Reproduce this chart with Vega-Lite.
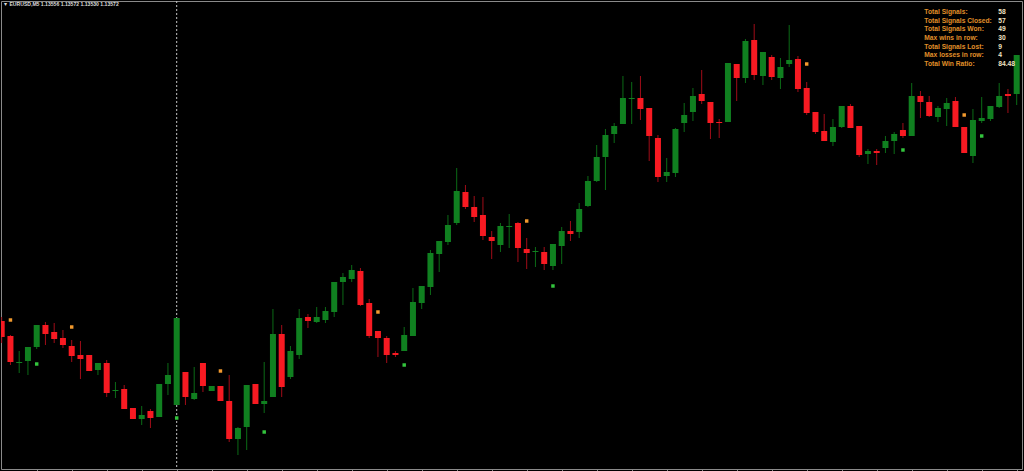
{
"$schema": "https://vega.github.io/schema/vega-lite/v6.json",
"width": 1021, "height": 468,
"autosize": {"type": "none"},
"padding": {"left": 1, "top": 1, "right": 2, "bottom": 2},
"background": "#000000",
"title": {"text": "▼ EURUSD,M5 1.13556 1.13572 1.13530 1.13572", "anchor": "start", "frame": "group", "orient": "top", "offset": -11, "baseline": "alphabetic", "dx": 2, "font": "Liberation Sans", "fontSize": 5.1, "fontWeight": "bold", "color": "#dcdcdc"},
"config": {"view": {"stroke": "#8a8a8a", "fill": "#000000"}, "axis": {"grid": false}, "scale": {"continuousPadding": 0}},
"datasets": {
"sep": [{"i": 21}],
"signals": [
{"i":2,"p":1.13680,"side":"sell"},{"i":9,"p":1.13673,"side":"sell"},{"i":26,"p":1.13629,"side":"sell"},{"i":44,"p":1.13688,"side":"sell"},{"i":61,"p":1.13779,"side":"sell"},{"i":93,"p":1.13936,"side":"sell"},{"i":111,"p":1.13885,"side":"sell"},
{"i":5,"p":1.13636,"side":"buy"},{"i":21,"p":1.13582,"side":"buy"},{"i":31,"p":1.13568,"side":"buy"},{"i":47,"p":1.13635,"side":"buy"},{"i":64,"p":1.13714,"side":"buy"},{"i":104,"p":1.13850,"side":"buy"},{"i":113,"p":1.13864,"side":"buy"}
],
"stats": [
{"row":1,"col":"label","text":"Total Signals:"},{"row":1,"col":"value","text":"58"},
{"row":2,"col":"label","text":"Total Signals Closed:"},{"row":2,"col":"value","text":"57"},
{"row":3,"col":"label","text":"Total Signals Won:"},{"row":3,"col":"value","text":"49"},
{"row":4,"col":"label","text":"Max wins in row:"},{"row":4,"col":"value","text":"30"},
{"row":5,"col":"label","text":"Total Signals Lost:"},{"row":5,"col":"value","text":"9"},
{"row":6,"col":"label","text":"Max losses in row:"},{"row":6,"col":"value","text":"4"},
{"row":7,"col":"label","text":"Total Win Ratio:"},{"row":7,"col":"value","text":"84.48"}
],
"candles": [
{"i":1,"o":1.13679,"h":1.13683,"l":1.13657,"c":1.13663},
{"i":2,"o":1.13664,"h":1.13665,"l":1.13635,"c":1.13638},
{"i":3,"o":1.13637,"h":1.13649,"l":1.13627,"c":1.13638},
{"i":4,"o":1.13639,"h":1.13653,"l":1.13625,"c":1.13653},
{"i":5,"o":1.13653,"h":1.13675,"l":1.13651,"c":1.13675},
{"i":6,"o":1.13675,"h":1.13678,"l":1.13655,"c":1.13666},
{"i":7,"o":1.13668,"h":1.13677,"l":1.13657,"c":1.13661},
{"i":8,"o":1.13662,"h":1.13670,"l":1.13652,"c":1.13655},
{"i":9,"o":1.13654,"h":1.13660,"l":1.13638,"c":1.13644},
{"i":10,"o":1.13645,"h":1.13659,"l":1.13621,"c":1.13641},
{"i":11,"o":1.13645,"h":1.13645,"l":1.13629,"c":1.13629},
{"i":12,"o":1.13630,"h":1.13637,"l":1.13625,"c":1.13637},
{"i":13,"o":1.13637,"h":1.13640,"l":1.13603,"c":1.13607},
{"i":14,"o":1.13609,"h":1.13618,"l":1.13602,"c":1.13610},
{"i":15,"o":1.13611,"h":1.13615,"l":1.13591,"c":1.13591},
{"i":16,"o":1.13592,"h":1.13592,"l":1.13581,"c":1.13581},
{"i":17,"o":1.13581,"h":1.13594,"l":1.13575,"c":1.13585},
{"i":18,"o":1.13589,"h":1.13591,"l":1.13572,"c":1.13582},
{"i":19,"o":1.13583,"h":1.13616,"l":1.13583,"c":1.13616},
{"i":20,"o":1.13616,"h":1.13637,"l":1.13605,"c":1.13625},
{"i":21,"o":1.13595,"h":1.13682,"l":1.13595,"c":1.13682},
{"i":22,"o":1.13628,"h":1.13628,"l":1.13595,"c":1.13603},
{"i":23,"o":1.13601,"h":1.13633,"l":1.13600,"c":1.13607},
{"i":24,"o":1.13637,"h":1.13637,"l":1.13608,"c":1.13614},
{"i":25,"o":1.13609,"h":1.13614,"l":1.13609,"c":1.13614},
{"i":26,"o":1.13614,"h":1.13614,"l":1.13599,"c":1.13599},
{"i":27,"o":1.13599,"h":1.13625,"l":1.13558,"c":1.13561},
{"i":28,"o":1.13561,"h":1.13573,"l":1.13545,"c":1.13572},
{"i":29,"o":1.13573,"h":1.13615,"l":1.13550,"c":1.13615},
{"i":30,"o":1.13616,"h":1.13616,"l":1.13596,"c":1.13596},
{"i":31,"o":1.13596,"h":1.13638,"l":1.13587,"c":1.13599},
{"i":32,"o":1.13603,"h":1.13691,"l":1.13603,"c":1.13666},
{"i":33,"o":1.13666,"h":1.13675,"l":1.13603,"c":1.13613},
{"i":34,"o":1.13623,"h":1.13654,"l":1.13621,"c":1.13649},
{"i":35,"o":1.13645,"h":1.13691,"l":1.13641,"c":1.13682},
{"i":36,"o":1.13683,"h":1.13686,"l":1.13672,"c":1.13679},
{"i":37,"o":1.13678,"h":1.13693,"l":1.13677,"c":1.13683},
{"i":38,"o":1.13680,"h":1.13693,"l":1.13677,"c":1.13689},
{"i":39,"o":1.13688,"h":1.13718,"l":1.13683,"c":1.13718},
{"i":40,"o":1.13718,"h":1.13727,"l":1.13695,"c":1.13723},
{"i":41,"o":1.13721,"h":1.13735,"l":1.13718,"c":1.13730},
{"i":42,"o":1.13729,"h":1.13732,"l":1.13694,"c":1.13695},
{"i":43,"o":1.13697,"h":1.13701,"l":1.13662,"c":1.13664},
{"i":44,"o":1.13669,"h":1.13669,"l":1.13643,"c":1.13662},
{"i":45,"o":1.13662,"h":1.13664,"l":1.13637,"c":1.13645},
{"i":46,"o":1.13647,"h":1.13649,"l":1.13643,"c":1.13645},
{"i":47,"o":1.13649,"h":1.13673,"l":1.13649,"c":1.13665},
{"i":48,"o":1.13664,"h":1.13712,"l":1.13664,"c":1.13698},
{"i":49,"o":1.13697,"h":1.13714,"l":1.13691,"c":1.13714},
{"i":50,"o":1.13713,"h":1.13750,"l":1.13705,"c":1.13747},
{"i":51,"o":1.13746,"h":1.13759,"l":1.13728,"c":1.13759},
{"i":52,"o":1.13758,"h":1.13785,"l":1.13755,"c":1.13775},
{"i":53,"o":1.13777,"h":1.13832,"l":1.13775,"c":1.13809},
{"i":54,"o":1.13808,"h":1.13815,"l":1.13791,"c":1.13793},
{"i":55,"o":1.13793,"h":1.13804,"l":1.13778,"c":1.13783},
{"i":56,"o":1.13785,"h":1.13803,"l":1.13760,"c":1.13764},
{"i":57,"o":1.13763,"h":1.13769,"l":1.13741,"c":1.13759},
{"i":58,"o":1.13755,"h":1.13777,"l":1.13748,"c":1.13774},
{"i":59,"o":1.13773,"h":1.13786,"l":1.13752,"c":1.13774},
{"i":60,"o":1.13777,"h":1.13778,"l":1.13738,"c":1.13752},
{"i":61,"o":1.13751,"h":1.13762,"l":1.13731,"c":1.13747},
{"i":62,"o":1.13748,"h":1.13753,"l":1.13733,"c":1.13749},
{"i":63,"o":1.13748,"h":1.13753,"l":1.13730,"c":1.13736},
{"i":64,"o":1.13734,"h":1.13756,"l":1.13730,"c":1.13756},
{"i":65,"o":1.13754,"h":1.13773,"l":1.13736,"c":1.13769},
{"i":66,"o":1.13769,"h":1.13779,"l":1.13759,"c":1.13766},
{"i":67,"o":1.13768,"h":1.13797,"l":1.13762,"c":1.13791},
{"i":68,"o":1.13794,"h":1.13824,"l":1.13793,"c":1.13819},
{"i":69,"o":1.13819,"h":1.13855,"l":1.13818,"c":1.13843},
{"i":70,"o":1.13843,"h":1.13871,"l":1.13810,"c":1.13865},
{"i":71,"o":1.13866,"h":1.13877,"l":1.13857,"c":1.13874},
{"i":72,"o":1.13876,"h":1.13924,"l":1.13876,"c":1.13902},
{"i":73,"o":1.13901,"h":1.13918,"l":1.13876,"c":1.13902},
{"i":74,"o":1.13902,"h":1.13924,"l":1.13880,"c":1.13891},
{"i":75,"o":1.13892,"h":1.13892,"l":1.13839,"c":1.13864},
{"i":76,"o":1.13862,"h":1.13865,"l":1.13818,"c":1.13823},
{"i":77,"o":1.13824,"h":1.13842,"l":1.13818,"c":1.13828},
{"i":78,"o":1.13827,"h":1.13872,"l":1.13823,"c":1.13871},
{"i":79,"o":1.13877,"h":1.13897,"l":1.13868,"c":1.13885},
{"i":80,"o":1.13888,"h":1.13912,"l":1.13879,"c":1.13904},
{"i":81,"o":1.13906,"h":1.13930,"l":1.13896,"c":1.13899},
{"i":82,"o":1.13898,"h":1.13898,"l":1.13861,"c":1.13877},
{"i":83,"o":1.13878,"h":1.13881,"l":1.13862,"c":1.13877},
{"i":84,"o":1.13878,"h":1.13937,"l":1.13878,"c":1.13937},
{"i":85,"o":1.13936,"h":1.13936,"l":1.13899,"c":1.13922},
{"i":86,"o":1.13922,"h":1.13961,"l":1.13917,"c":1.13959},
{"i":87,"o":1.13960,"h":1.13976,"l":1.13920,"c":1.13925},
{"i":88,"o":1.13924,"h":1.13948,"l":1.13915,"c":1.13948},
{"i":89,"o":1.13943,"h":1.13945,"l":1.13920,"c":1.13923},
{"i":90,"o":1.13922,"h":1.13942,"l":1.13911,"c":1.13933},
{"i":91,"o":1.13936,"h":1.13975,"l":1.13933,"c":1.13940},
{"i":92,"o":1.13941,"h":1.13944,"l":1.13908,"c":1.13911},
{"i":93,"o":1.13912,"h":1.13918,"l":1.13885,"c":1.13887},
{"i":94,"o":1.13888,"h":1.13888,"l":1.13866,"c":1.13868},
{"i":95,"o":1.13869,"h":1.13886,"l":1.13859,"c":1.13859},
{"i":96,"o":1.13858,"h":1.13881,"l":1.13854,"c":1.13873},
{"i":97,"o":1.13873,"h":1.13894,"l":1.13872,"c":1.13894},
{"i":98,"o":1.13894,"h":1.13896,"l":1.13872,"c":1.13872},
{"i":99,"o":1.13874,"h":1.13874,"l":1.13843,"c":1.13845},
{"i":100,"o":1.13846,"h":1.13851,"l":1.13836,"c":1.13849},
{"i":101,"o":1.13849,"h":1.13851,"l":1.13835,"c":1.13847},
{"i":102,"o":1.13852,"h":1.13864,"l":1.13847,"c":1.13859},
{"i":103,"o":1.13859,"h":1.13868,"l":1.13846,"c":1.13866},
{"i":104,"o":1.13870,"h":1.13877,"l":1.13862,"c":1.13864},
{"i":105,"o":1.13864,"h":1.13917,"l":1.13864,"c":1.13904},
{"i":106,"o":1.13904,"h":1.13909,"l":1.13882,"c":1.13898},
{"i":107,"o":1.13898,"h":1.13904,"l":1.13883,"c":1.13884},
{"i":108,"o":1.13883,"h":1.13894,"l":1.13878,"c":1.13892},
{"i":109,"o":1.13891,"h":1.13902,"l":1.13874,"c":1.13897},
{"i":110,"o":1.13899,"h":1.13903,"l":1.13873,"c":1.13873},
{"i":111,"o":1.13873,"h":1.13873,"l":1.13847,"c":1.13847},
{"i":112,"o":1.13844,"h":1.13891,"l":1.13837,"c":1.13880},
{"i":113,"o":1.13879,"h":1.13903,"l":1.13877,"c":1.13882},
{"i":114,"o":1.13881,"h":1.13894,"l":1.13879,"c":1.13894},
{"i":115,"o":1.13893,"h":1.13917,"l":1.13892,"c":1.13904},
{"i":116,"o":1.13906,"h":1.13911,"l":1.13887,"c":1.13904},
{"i":117,"o":1.13906,"h":1.13945,"l":1.13895,"c":1.13945}
]
},
"layer": [
{
"layer": [
{"data": {"name": "sep"}, "mark": {"type": "rule", "color": "#c4c4c4", "strokeDash": [2, 2], "strokeWidth": 1},
 "encoding": {"x": {"field": "i", "type": "quantitative", "scale": {"domain": [0.92, 117.606], "nice": false, "zero": false, "padding": 0}, "axis": {"orient": "bottom", "values": [5,9,13,17,21,25,29,33,37,41,45,49,53,57,61,65,69,73,77,81,85,89,93,97,101,105,109,113,117], "labels": false, "domain": false, "ticks": true, "tickColor": "#8a8a8a", "tickSize": 3, "title": null, "grid": false}}}},
{"data": {"name": "candles"}, "mark": {"type": "rule", "strokeWidth": 1, "clip": true},
 "encoding": {"x": {"field": "i", "type": "quantitative", "scale": {"domain": [0.92, 117.606], "nice": false, "zero": false, "padding": 0}, "axis": {"orient": "bottom", "values": [5,9,13,17,21,25,29,33,37,41,45,49,53,57,61,65,69,73,77,81,85,89,93,97,101,105,109,113,117], "labels": false, "domain": false, "ticks": true, "tickColor": "#8a8a8a", "tickSize": 3, "title": null, "grid": false}},
  "y": {"field": "l", "type": "quantitative", "scale": {"domain": [1.13531, 1.13999], "nice": false, "zero": false, "padding": 0}, "axis": null},
  "y2": {"field": "h"},
  "color": {"condition": {"test": "datum.c >= datum.o", "value": "#0b6a16"}, "value": "#a00c18"}}},
{"data": {"name": "candles"}, "mark": {"type": "bar", "width": 6, "orient": "vertical", "clip": true},
 "encoding": {"x": {"field": "i", "type": "quantitative", "scale": {"domain": [0.92, 117.606], "nice": false, "zero": false, "padding": 0}, "axis": {"orient": "bottom", "values": [5,9,13,17,21,25,29,33,37,41,45,49,53,57,61,65,69,73,77,81,85,89,93,97,101,105,109,113,117], "labels": false, "domain": false, "ticks": true, "tickColor": "#8a8a8a", "tickSize": 3, "title": null, "grid": false}},
  "y": {"field": "o", "type": "quantitative", "scale": {"domain": [1.13531, 1.13999], "nice": false, "zero": false, "padding": 0}, "axis": null},
  "y2": {"field": "c"},
  "color": {"condition": {"test": "datum.c >= datum.o", "value": "#108020"}, "value": "#f81a22"}}},
{"data": {"name": "signals"}, "mark": {"type": "point", "shape": "square", "filled": true, "size": 12, "opacity": 1, "strokeWidth": 0},
 "encoding": {"x": {"field": "i", "type": "quantitative", "scale": {"domain": [0.92, 117.606], "nice": false, "zero": false, "padding": 0}, "axis": {"orient": "bottom", "values": [5,9,13,17,21,25,29,33,37,41,45,49,53,57,61,65,69,73,77,81,85,89,93,97,101,105,109,113,117], "labels": false, "domain": false, "ticks": true, "tickColor": "#8a8a8a", "tickSize": 3, "title": null, "grid": false}},
  "y": {"field": "p", "type": "quantitative", "scale": {"domain": [1.13531, 1.13999], "nice": false, "zero": false, "padding": 0}, "axis": null},
  "color": {"field": "side", "type": "nominal", "scale": {"domain": ["sell", "buy"], "range": ["#f29a2e", "#33c43d"]}, "legend": null}}}
]
},
{"data": {"name": "stats"}, "mark": {"type": "text", "align": "left", "baseline": "alphabetic", "font": "Liberation Sans", "fontSize": 6.7, "fontWeight": "bold"},
 "encoding": {"x": {"field": "col", "type": "nominal", "scale": {"type": "point", "domain": ["label", "value"], "range": [923.3, 997.3], "padding": 0}, "axis": null},
  "y": {"field": "row", "type": "ordinal", "scale": {"type": "point", "domain": [1,2,3,4,5,6,7], "range": [13, 65], "padding": 0}, "axis": null},
  "text": {"field": "text"},
  "color": {"field": "col", "type": "nominal", "scale": {"domain": ["label", "value"], "range": ["#e0902a", "#f2e4c4"]}, "legend": null}}}
],
"resolve": {"scale": {"x": "independent", "y": "independent", "color": "independent"}}
}
